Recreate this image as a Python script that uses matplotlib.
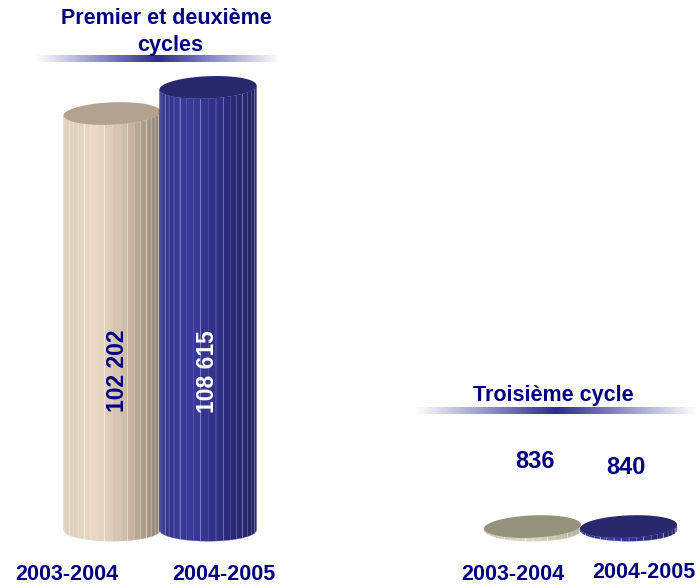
import numpy as np
import matplotlib
matplotlib.use("Agg")
import matplotlib.pyplot as plt
from matplotlib.colors import LinearSegmentedColormap

plt.rcParams["font.family"] = ["Liberation Sans", "DejaVu Sans"]

YEARS = ["2003-2004", "2004-2005"]
CYCLE_1_2 = [102202, 108615]
CYCLE_3 = [836, 840]
VALUE_LABELS_1_2 = ["102 202", "108 615"]
VALUE_LABELS_3 = ["836", "840"]

W, H = 697, 586
UNITS_PER_PX = 245.4
NAVY = "#000080"
RIM = 11.2 * UNITS_PER_PX
TILT = 2.0 * UNITS_PER_PX
N_FACETS = 20

TAN = LinearSegmentedColormap.from_list("tan", ["#dccdb8", "#ecd9c3", "#c8b8a2", "#8f8371"])
BLUE = LinearSegmentedColormap.from_list("blue", ["#34348c", "#3a3a9c", "#2c2c80", "#232362"])
TAN_DISC = LinearSegmentedColormap.from_list("tandisc", ["#c9c9b0", "#d8d8c0", "#b0b098"])


def make_axes(left, right, base, center0, spacing):
    ax = fig.add_axes([left / W, 0, (right - left) / W, 1])
    ax.set_xlim((left - center0) / spacing, (right - center0) / spacing)
    ax.set_ylim(-(H - base) * UNITS_PER_PX, base * UNITS_PER_PX)
    ax.axis("off")
    ax.patch.set_alpha(0)
    return ax


def cylinder(ax, x, value, cmap, top_color, seam="white", zorder=2):
    # facets go round the front half of the cylinder
    ang = np.linspace(np.pi, 0, N_FACETS + 1)
    xs = x + 0.505 * np.cos(ang)
    ys = -RIM * np.sin(ang)
    tops = ys + value + TILT * np.cos(ang)
    for i in range(N_FACETS):
        t = (i + 0.5) / N_FACETS
        ax.fill(
            [xs[i], xs[i + 1], xs[i + 1], xs[i]],
            [ys[i], ys[i + 1], tops[i + 1], tops[i]],
            color=cmap(0.5 - 0.5 * np.cos(np.pi * t)),
            lw=0.2,
            zorder=zorder,
        )
        if i > 0:
            ax.plot(
                [xs[i], xs[i]],
                [ys[i], tops[i]],
                color=seam,
                lw=0.7,
                alpha=0.5 if i % 3 == 0 else 0.2,
                zorder=zorder,
            )
    t = np.linspace(0, 2 * np.pi, 200)
    ax.fill(
        x + 0.505 * np.cos(t),
        value + RIM * np.sin(t) + TILT * np.cos(t),
        color=top_color,
        lw=0,
        zorder=zorder,
    )


def gradient_rule(ax, x0, x1, y0, y1):
    ramp = np.abs(np.linspace(-1, 1, 256))[None, :, None]
    img = (1 - ramp) * np.array([0.17, 0.17, 0.58]) + ramp * np.array([1, 1, 1])
    ax.imshow(img, extent=[x0, x1, y1, y0], aspect="auto", zorder=1)


fig = plt.figure(figsize=(W / 100, H / 100), dpi=100, facecolor="white")

overlay = fig.add_axes([0, 0, 1, 1], zorder=0)
gradient_rule(overlay, 35, 280, 55, 62)
gradient_rule(overlay, 415, 697, 407, 414)
overlay.set_xlim(0, W)
overlay.set_ylim(H, 0)
overlay.axis("off")

ax_left = make_axes(0, 348, 530, 112, 96)
ax_left.set_zorder(1)
cylinder(ax_left, 0, CYCLE_1_2[0], TAN, "#b3a28f", zorder=2)
cylinder(ax_left, 1, CYCLE_1_2[1], BLUE, "#28286f", seam="#b0b0e0", zorder=3)

ax_right = make_axes(348, 697, 530, 532.5, 96)
ax_right.set_zorder(1)
cylinder(ax_right, 0, CYCLE_3[0], TAN_DISC, "#94937a", zorder=2)
cylinder(ax_right, 1, CYCLE_3[1], BLUE, "#28286f", zorder=3)

labels = fig.add_axes([0, 0, 1, 1], zorder=2)
labels.set_xlim(0, W)
labels.set_ylim(H, 0)
labels.axis("off")
labels.patch.set_alpha(0)


def put(x, y, s, size=15.5, color=NAVY, rotation=0):
    labels.text(x, y, s, fontsize=size, fontweight="bold", color=color,
                ha="center", va="center", rotation=rotation)


put(166, 18, "Premier et deuxième")
put(170, 46, "cycles")
put(553, 395, "Troisième cycle")

put(117, 371, VALUE_LABELS_1_2[0], size=16.5, rotation=90)
put(208, 372, VALUE_LABELS_1_2[1], size=16.5, color="white", rotation=90)
put(535, 461, VALUE_LABELS_3[0], size=17)
put(626, 467, VALUE_LABELS_3[1], size=17)

put(67, 575, YEARS[0])
put(224, 575, YEARS[1])
put(513, 575, YEARS[0])
put(644, 573, YEARS[1])

fig.savefig("out.png", dpi=100)
